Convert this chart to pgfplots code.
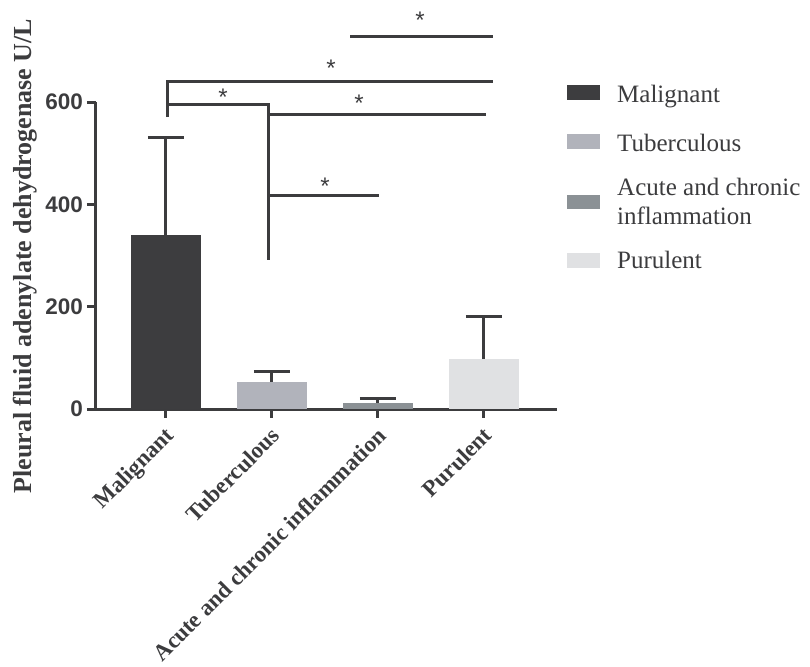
\documentclass[border=0pt]{standalone}
\usepackage{fontspec}
\setmainfont{Liberation Serif}[BoldFont={Liberation Serif Bold}]
\newfontfamily\arialf{Liberation Sans}[BoldFont={Liberation Sans Bold}]
\usepackage{pgfplots}
\pgfplotsset{compat=1.18}
\definecolor{axgray}{HTML}{3C3C3E}
\definecolor{cMal}{HTML}{3D3D3F}
\definecolor{cTub}{HTML}{B1B3BB}
\definecolor{cAcu}{HTML}{8B9195}
\definecolor{cPur}{HTML}{E0E1E3}
\newcommand{\lstrut}{\rule[-6.8pt]{0pt}{29pt}}
\begin{document}
\begin{tikzpicture}
\path[use as bounding box] (-95.7pt,-257pt) rectangle (714.3pt,409pt);
\begin{axis}[
  at={(0,0)}, anchor=south west,
  scale only axis, width=461pt, height=307pt,
  xmin=-0.663, xmax=3.686, ymin=0, ymax=600,
  clip=false,
  axis lines=left,
  axis line style={-, line width=3pt, axgray},
  tick style={line width=3pt, axgray},
  major tick length=8.7pt,
  tick align=outside,
  xtick={0,1,2,3},
  xticklabels={Malignant, Tuberculous, Acute and chronic inflammation, Purulent},
  ytick={0,200,400,600},
  /pgf/number format/assume math mode=true,
  yticklabel style={font=\fontsize{22.5}{25}\selectfont\arialf\bfseries, text=axgray, anchor=east, inner sep=0pt, xshift=-4pt},
  xticklabel style={font=\fontsize{23}{27}\selectfont\bfseries, text=axgray, xshift=-2pt, yshift=-8pt, rotate=45, anchor=north east, inner sep=0pt},
  ylabel={Pleural fluid adenylate dehydrogenase U/L},
  every axis y label/.style={at={(rel axis cs:0,0)}, xshift=-63.7pt, yshift=-88pt, rotate=90, anchor=base west, font=\fontsize{26}{30}\selectfont\bfseries, text=axgray},
  bar width=70pt, bar shift=0pt,
  legend style={at={(rel axis cs:1,1)}, anchor=north west, xshift=10.3pt, yshift=21.5pt,
    draw=none, fill=none, inner sep=0pt, font=\fontsize{25}{29}\selectfont, text=axgray,
    row sep=25pt, nodes={inner sep=0pt, outer sep=0pt}, cells={anchor=west, align=left},
    /tikz/every odd column/.append style={column sep=17pt}},
  mybar/.style={ybar, fill=#1, draw=none,
    legend image code/.code={\fill[fill=#1, draw=none] (0pt,-7.3pt) rectangle (33pt,7.3pt);},
    error bars/.cd, y dir=plus, y explicit,
    error bar style={line width=3pt, draw=axgray},
    error mark options={rotate=90, line width=3pt, draw=axgray, mark size=18pt}},
  bracket/.style={line width=3pt, axgray, no marks, sharp plot, line join=miter, forget plot},
]
\addplot[mybar=cMal] coordinates {(0,339.5) +- (0,192)};
\addlegendentry{\lstrut Malignant}
\addplot[mybar=cTub] coordinates {(1,53.4) +- (0,19.5)};
\addlegendentry{\lstrut Tuberculous}
\addplot[mybar=cAcu] coordinates {(2,12.3) +- (0,9.2)};
\addlegendentry{Acute and chronic\\inflammation}
\addplot[mybar=cPur] coordinates {(3,97.7) +- (0,84)};
\addlegendentry{\rule[-6.8pt]{0pt}{22pt}Purulent}
% significance brackets
\addplot[bracket] coordinates {(1.736,727.6) (3.085,727.6)};
\addplot[bracket] coordinates {(0.016,570.6) (0.016,641) (3.085,641)};
\addplot[bracket] coordinates {(0.016,596) (0.969,596) (0.969,291.2)};
\addplot[bracket] coordinates {(0.969,574.6) (3.019,574.6)};
\addplot[bracket] coordinates {(0.969,416.3) (2.009,416.3)};
\begin{scope}[every node/.style={font=\fontsize{24}{24}\selectfont\arialf, text=axgray, anchor=north, inner sep=0pt}]
\node at (axis cs:2.396,776.4) {*};
\node at (axis cs:1.557,683.4) {*};
\node at (axis cs:0.538,626.0) {*};
\node at (axis cs:1.821,613.6) {*};
\node at (axis cs:1.5,452.0) {*};
\end{scope}
\end{axis}
\end{tikzpicture}
\end{document}
